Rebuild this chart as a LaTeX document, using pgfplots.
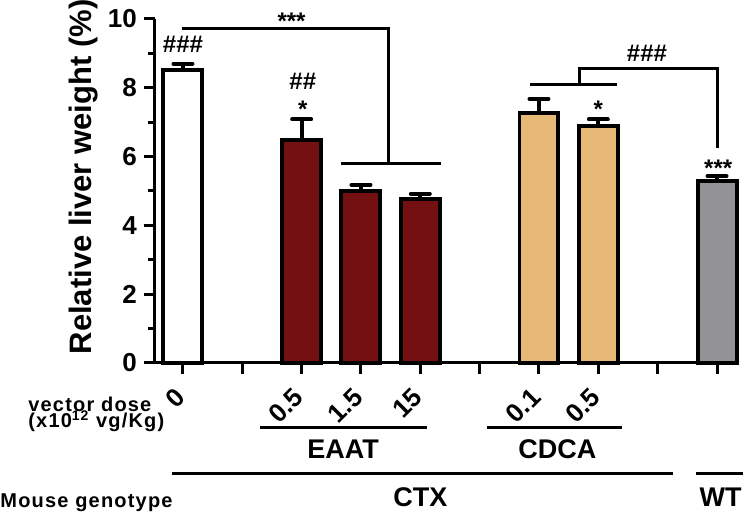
\documentclass[border=0pt]{standalone}
\usepackage{pgfplots}
\pgfplotsset{compat=1.18}
\usepackage{fontspec}
\setmainfont{Liberation Sans}
\newfontfamily\spaced[LetterSpace=6]{Liberation Sans}
\definecolor{maroon}{RGB}{116,15,18}
\definecolor{tanc}{RGB}{230,185,119}
\definecolor{wtgray}{RGB}{147,147,150}
\begin{document}
\begin{tikzpicture}
\begin{axis}[
 x=29.67pt, y=17.2pt,
 xmin=-0.472, xmax=9.36, ymin=0, ymax=10,
 axis x line*=bottom, axis y line*=left,
 axis line style={line width=1.5pt},
 clip=false,
 ytick={0,2,...,10}, minor ytick={1,3,...,9},
 xtick={0,...,9},
 xticklabels={0,,0.5,1.5,15,,0.1,0.5,,},
 tick align=outside,
 major tick length=5.5pt, minor tick length=3.5pt,
 tick style={line width=1.5pt, black},
 ticklabel style={font=\fontsize{13}{13}\selectfont\bfseries},
 /pgf/number format/assume math mode=true,
 xticklabel style={xshift=1pt, yshift=-7pt, rotate=45, anchor=east},
 ylabel={Relative liver weight (\%)},
 every axis y label/.style={at={(rel axis cs:-0.1217,0.541)}, rotate=90, anchor=center, font=\fontsize{15.5}{15.5}\selectfont\bfseries},
 ybar, bar width=19.5pt, bar shift=0pt,
 every axis plot/.append style={draw=black, line width=2pt},
 error bars/y dir=plus, error bars/y explicit,
 error bars/error bar style={line width=2pt, black},
 error bars/error mark options={rotate=90, mark size=4.75pt, line width=2pt, line cap=round, black},
]
\addplot[fill=white] coordinates {(0,8.52) +- (0,0.18)};
\addplot[fill=maroon] coordinates {(2,6.47) +- (0,0.61) (3,4.99) +- (0,0.19) (4,4.78) +- (0,0.14)};
\addplot[fill=tanc] coordinates {(6,7.27) +- (0,0.41) (7,6.88) +- (0,0.20)};
\addplot[fill=wtgray] coordinates {(9,5.29) +- (0,0.14)};

\begin{scope}[every node/.style={font=\fontsize{12}{12}\selectfont\bfseries, inner sep=0pt, anchor=base}]
\node at (axis cs:0,9.04) {\#\#\#};
\node at (axis cs:1.83,9.68) {***};
\node at (axis cs:2.02,7.94) {\#\#};
\node at (axis cs:2.02,7.15) {*};
\node at (axis cs:7,7.15) {*};
\node at (axis cs:9.02,5.41) {***};
\node at (axis cs:7.82,8.75) {\#\#\#};
\end{scope}

\begin{scope}[line width=1.5pt]
\draw (axis cs:-0.02,9.73) -- (axis cs:3.47,9.73) -- (axis cs:3.47,5.81);
\draw (axis cs:2.66,5.81) -- (axis cs:4.35,5.81);
\draw (axis cs:5.85,8.11) -- (axis cs:7.32,8.11);
\draw (axis cs:6.69,8.11) -- (axis cs:6.69,8.57) -- (axis cs:9.0,8.57) -- (axis cs:9.0,6.25);
\draw (axis cs:1.30,-1.89) -- (axis cs:4.11,-1.89);
\draw (axis cs:5.13,-1.89) -- (axis cs:7.40,-1.89);
\draw (axis cs:-0.19,-3.20) -- (axis cs:8.26,-3.20);
\draw (axis cs:8.65,-3.20) -- (axis cs:9.44,-3.20);
\end{scope}

\begin{scope}[every node/.style={font=\fontsize{13.5}{13.5}\selectfont\bfseries, inner sep=0pt}]
\node at (axis cs:2.70,-2.50) {EAAT};
\node at (axis cs:6.31,-2.50) {CDCA};
\node at (axis cs:4.0,-3.90) {CTX};
\node at (axis cs:9.06,-3.90) {WT};
\end{scope}

\begin{scope}[every node/.style={font=\fontsize{10}{10}\selectfont\spaced\bfseries, inner sep=0pt, anchor=base west}]
\node at (axis cs:-2.613,-1.42) {vector dose};
\node at (axis cs:-2.613,-1.89) {(x10\textsuperscript{12} vg/Kg)};
\node at (axis cs:-3.084,-4.19) {Mouse genotype};
\end{scope}

\coordinate (bl) at (axis cs:-3.084,-4.448);
\coordinate (tr) at (axis cs:9.573,10.552);
\end{axis}
\pgfresetboundingbox
\path[use as bounding box] (bl) rectangle (tr);
\end{tikzpicture}
\end{document}
